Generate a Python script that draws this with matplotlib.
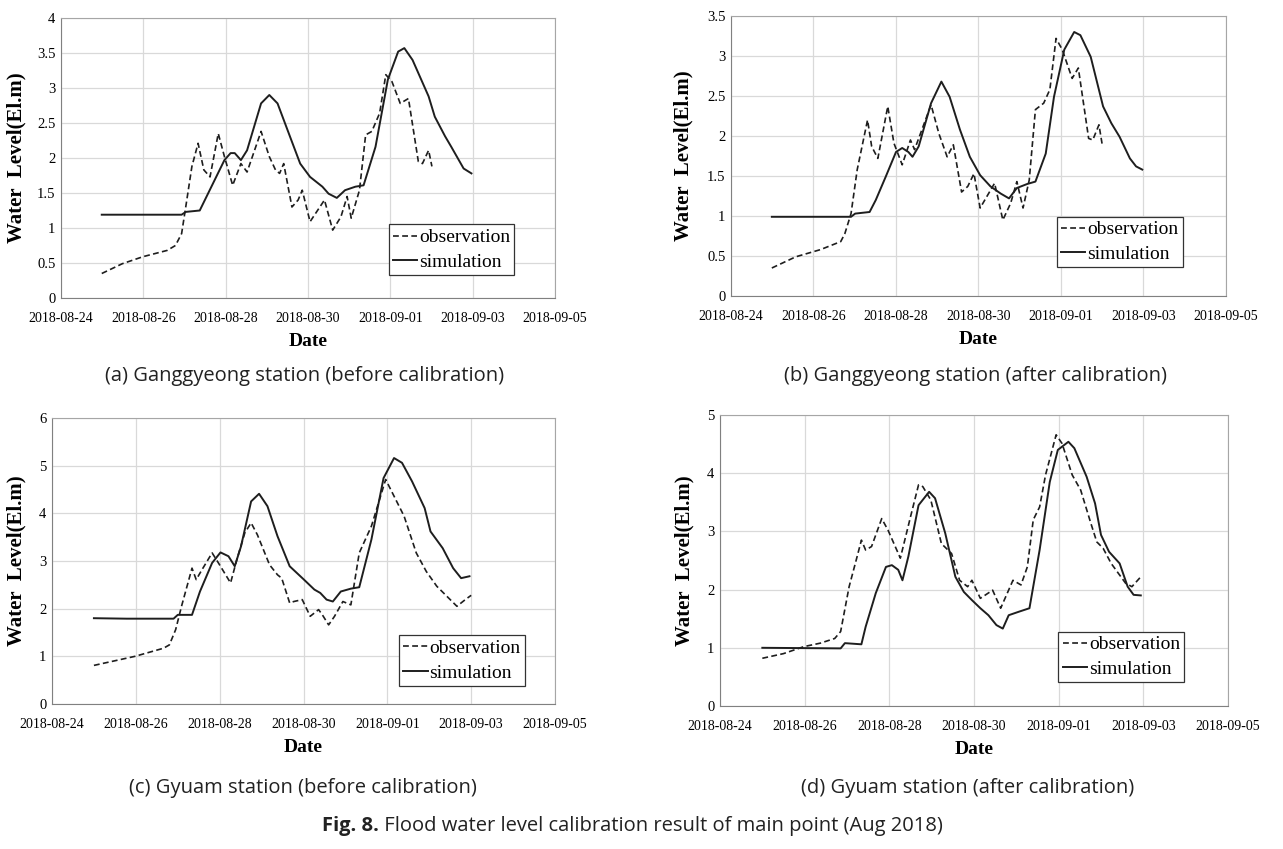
import matplotlib
matplotlib.use("Agg")
import matplotlib.pyplot as plt
import matplotlib.dates as mdates
import matplotlib.ticker as mticker
import numpy as np

# time in days after 2018-08-24 00:00, water level in El.m
# (a) Ganggyeong, before calibration
a_obs_t = [0.99, 1.49, 1.99, 2.58, 2.78, 2.93, 3.03, 3.18, 3.33, 3.47, 3.62, 3.82, 3.97, 4.17, 4.37, 4.52,
           4.86, 5.06, 5.21, 5.31, 5.41, 5.61, 5.76, 5.86, 6.05, 6.40, 6.60, 6.80, 6.95, 7.05, 7.25, 7.40,
           7.55, 7.74, 7.89, 8.04, 8.24, 8.44, 8.68, 8.78, 8.93, 9.01]
a_obs_v = [0.35, 0.49, 0.59, 0.68, 0.75, 0.92, 1.30, 1.88, 2.21, 1.83, 1.73, 2.35, 2.02, 1.61, 1.92, 1.80,
           2.38, 2.02, 1.83, 1.78, 1.92, 1.30, 1.40, 1.54, 1.09, 1.40, 0.97, 1.16, 1.45, 1.14, 1.54, 2.33,
           2.38, 2.64, 3.19, 3.09, 2.78, 2.85, 1.95, 1.92, 2.11, 1.88]
a_sim_t = [0.99, 2.93, 3.03, 3.37, 3.57, 3.97, 4.12, 4.22, 4.37, 4.52, 4.86, 5.06, 5.26, 5.56, 5.81, 6.05,
           6.35, 6.50, 6.70, 6.90, 7.15, 7.35, 7.64, 7.94, 8.19, 8.34, 8.54, 8.93, 9.08, 9.33, 9.48, 9.78, 9.97]
a_sim_v = [1.19, 1.19, 1.23, 1.25, 1.49, 1.97, 2.07, 2.07, 1.97, 2.11, 2.78, 2.90, 2.78, 2.31, 1.92, 1.73,
           1.59, 1.49, 1.43, 1.54, 1.59, 1.61, 2.16, 3.12, 3.52, 3.57, 3.40, 2.88, 2.59, 2.31, 2.16, 1.85, 1.78]

# (b) Ganggyeong, after calibration
b_obs_t = [0.99, 1.57, 2.17, 2.66, 2.76, 2.91, 3.06, 3.31, 3.41, 3.56, 3.80, 3.95, 4.15, 4.35, 4.45, 4.85,
           5.04, 5.24, 5.39, 5.59, 5.74, 5.89, 6.04, 6.39, 6.59, 6.78, 6.93, 7.08, 7.23, 7.38, 7.58, 7.73,
           7.88, 8.03, 8.27, 8.42, 8.67, 8.77, 8.92, 9.00]
b_obs_v = [0.35, 0.49, 0.58, 0.68, 0.78, 1.03, 1.58, 2.20, 1.87, 1.72, 2.37, 1.91, 1.64, 1.95, 1.83, 2.39,
           2.03, 1.74, 1.89, 1.30, 1.37, 1.53, 1.10, 1.41, 0.95, 1.16, 1.43, 1.10, 1.45, 2.33, 2.41, 2.58,
           3.22, 3.08, 2.72, 2.85, 1.97, 1.95, 2.14, 1.89]
b_sim_t = [0.99, 2.91, 3.01, 3.36, 3.51, 3.75, 4.00, 4.15, 4.30, 4.40, 4.55, 4.85, 5.10, 5.30, 5.55, 5.79,
           6.04, 6.29, 6.54, 6.74, 6.93, 7.18, 7.38, 7.63, 7.83, 8.08, 8.32, 8.47, 8.72, 9.02, 9.22, 9.42,
           9.67, 9.82, 9.97]
b_sim_v = [0.99, 0.99, 1.03, 1.05, 1.20, 1.49, 1.80, 1.85, 1.80, 1.74, 1.87, 2.41, 2.68, 2.49, 2.08, 1.74,
           1.51, 1.37, 1.28, 1.22, 1.35, 1.40, 1.43, 1.78, 2.49, 3.08, 3.30, 3.26, 2.99, 2.37, 2.16, 1.99,
           1.72, 1.62, 1.58]

# (c) Gyuam, before calibration
c_obs_t = [1.00, 1.98, 2.66, 2.80, 2.95, 3.09, 3.34, 3.44, 3.58, 3.82, 3.97, 4.26, 4.41, 4.60, 4.75, 4.90,
           5.19, 5.38, 5.48, 5.67, 5.77, 5.97, 6.16, 6.36, 6.45, 6.60, 6.74, 6.94, 7.13, 7.33, 7.62, 7.96,
           8.20, 8.40, 8.69, 8.93, 9.18, 9.42, 9.66, 9.86, 10.00]
c_obs_v = [0.81, 1.00, 1.17, 1.24, 1.56, 2.05, 2.85, 2.61, 2.82, 3.17, 2.96, 2.54, 3.03, 3.59, 3.80, 3.55,
           2.92, 2.71, 2.64, 2.12, 2.15, 2.19, 1.84, 1.98, 1.87, 1.66, 1.84, 2.15, 2.08, 3.17, 3.73, 4.71,
           4.29, 3.94, 3.17, 2.78, 2.47, 2.26, 2.05, 2.19, 2.28]
c_sim_t = [1.00, 1.78, 2.90, 3.00, 3.34, 3.53, 3.82, 4.02, 4.21, 4.36, 4.51, 4.75, 4.94, 5.14, 5.38, 5.67,
           6.01, 6.26, 6.40, 6.55, 6.70, 6.89, 7.13, 7.33, 7.62, 7.91, 8.16, 8.35, 8.59, 8.89, 9.03, 9.32,
           9.57, 9.76, 9.96]
c_sim_v = [1.80, 1.79, 1.79, 1.87, 1.87, 2.36, 2.96, 3.18, 3.10, 2.89, 3.31, 4.25, 4.41, 4.15, 3.52, 2.89,
           2.61, 2.40, 2.33, 2.19, 2.15, 2.36, 2.42, 2.45, 3.45, 4.74, 5.16, 5.06, 4.67, 4.11, 3.62, 3.27,
           2.85, 2.64, 2.68]

# (d) Gyuam, after calibration
d_obs_t = [1.00, 1.50, 1.98, 2.37, 2.71, 2.85, 3.05, 3.24, 3.34, 3.44, 3.58, 3.82, 3.97, 4.26, 4.50, 4.69,
           4.79, 4.98, 5.23, 5.47, 5.66, 5.85, 5.95, 6.15, 6.44, 6.63, 6.92, 7.11, 7.26, 7.40, 7.55, 7.69,
           7.94, 8.08, 8.32, 8.52, 8.76, 8.90, 9.05, 9.24, 9.58, 9.73, 9.94]
d_obs_v = [0.82, 0.90, 1.02, 1.08, 1.16, 1.28, 2.05, 2.57, 2.85, 2.68, 2.74, 3.22, 3.02, 2.54, 3.25, 3.80,
           3.77, 3.54, 2.79, 2.62, 2.16, 2.05, 2.16, 1.85, 1.99, 1.68, 2.16, 2.08, 2.39, 3.20, 3.42, 3.97,
           4.66, 4.51, 3.97, 3.71, 3.14, 2.82, 2.71, 2.45, 2.11, 2.05, 2.22]
d_sim_t = [1.00, 2.85, 2.95, 3.34, 3.44, 3.68, 3.92, 4.06, 4.21, 4.31, 4.45, 4.69, 4.94, 5.08, 5.32, 5.56,
           5.76, 5.95, 6.15, 6.34, 6.53, 6.68, 6.82, 7.06, 7.31, 7.55, 7.79, 7.98, 8.23, 8.37, 8.66, 8.86,
           9.00, 9.19, 9.44, 9.63, 9.77, 9.94]
d_sim_v = [1.00, 0.99, 1.08, 1.06, 1.36, 1.94, 2.39, 2.42, 2.34, 2.16, 2.57, 3.45, 3.68, 3.57, 2.97, 2.22,
           1.96, 1.82, 1.68, 1.56, 1.39, 1.33, 1.56, 1.62, 1.68, 2.68, 3.85, 4.40, 4.54, 4.43, 3.94, 3.48,
           2.94, 2.65, 2.45, 2.05, 1.91, 1.90]

captions = ["(a) Ganggyeong station (before calibration)",
            "(b) Ganggyeong station (after calibration)",
            "(c) Gyuam station (before calibration)",
            "(d) Gyuam station (after calibration)"]
y_max = [4, 3.5, 6, 5]
y_step = [0.5, 0.5, 1, 1]

W, H = 1283, 849
fig = plt.figure(figsize=(W / 100, H / 100), dpi=100)

# axes boxes in pixels: left, right, top, bottom
boxes = [(61, 555, 18, 298), (731, 1226, 16, 296), (52, 555, 418, 704), (720, 1228, 415, 706)]
legend_xy = [(0.663, 0.082), (0.658, 0.103), (0.69, 0.063), (0.666, 0.082)]
ylab_x = [-0.070, -0.075, -0.050, -0.051]
cap_xy = [(305, 376), (975, 376), (303, 788), (968, 788)]

series = [(a_obs_t, a_obs_v, a_sim_t, a_sim_v), (b_obs_t, b_obs_v, b_sim_t, b_sim_v),
          (c_obs_t, c_obs_v, c_sim_t, c_sim_v), (d_obs_t, d_obs_v, d_sim_t, d_sim_v)]

t0 = mdates.datestr2num("2018-08-24")
serif = ["Liberation Serif", "DejaVu Serif"]
sans = ["Open Sans", "DejaVu Sans"]

for i in range(4):
    l, r, t, b = boxes[i]
    ax = fig.add_axes([l / W, 1 - b / H, (r - l) / W, (b - t) / H])
    ot, ov, st, sv = series[i]
    ax.plot(t0 + np.array(ot), ov, color="#1e1e1e", lw=1.2, dashes=(3.5, 2), label="observation")
    ax.plot(t0 + np.array(st), sv, color="#1e1e1e", lw=1.4, label="simulation")

    ax.set_xlim(t0, t0 + 12)
    ax.set_ylim(0, y_max[i])
    ax.xaxis.set_major_locator(mticker.FixedLocator(t0 + np.arange(0, 13, 2)))
    ax.xaxis.set_major_formatter(mdates.DateFormatter("%Y-%m-%d"))
    ax.yaxis.set_major_locator(mticker.MultipleLocator(y_step[i]))
    ax.yaxis.set_major_formatter(mticker.FuncFormatter(lambda v, p: "%g" % v))
    ax.grid(True, color="#d9d9d9", lw=0.9)
    ax.set_axisbelow(True)
    ax.tick_params(axis="x", length=0, labelsize=10, pad=10)
    ax.tick_params(axis="y", length=0, labelsize=10.5, pad=4)
    for lab in ax.get_xticklabels() + ax.get_yticklabels():
        lab.set_family(serif)
    for side in ["top", "right"]:
        ax.spines[side].set_color("#a6a6a6")
    for side in ["left", "bottom"]:
        ax.spines[side].set_color("#808080")
    ax.set_xlabel("Date", family=serif, fontweight="bold", fontsize=14, labelpad=6)
    ax.set_ylabel("Water  Level(El.m)", family=serif, fontweight="bold", fontsize=15)
    ax.yaxis.set_label_coords(ylab_x[i], 0.5)

    leg = ax.legend(loc="lower left", bbox_to_anchor=legend_xy[i], prop={"family": serif, "size": 14},
                    handlelength=1.25, handletextpad=0.1, labelspacing=0.35, borderpad=0.22,
                    borderaxespad=0, fancybox=False, framealpha=1)
    leg.get_frame().set_edgecolor("#333333")
    leg.get_frame().set_linewidth(0.9)

    cx, cy = cap_xy[i]
    fig.text(cx / W, 1 - cy / H, captions[i], ha="center", va="center",
             fontsize=14.5, family=sans, color="#222222")

fig.text(379 / W, 1 - 826 / H, "Fig. 8.", ha="right", va="center", fontsize=14.5,
         fontweight="bold", family=sans, color="#222222")
fig.text(379 / W, 1 - 826 / H, " Flood water level calibration result of main point (Aug 2018)",
         ha="left", va="center", fontsize=14.5, family=sans, color="#222222")

fig.savefig("out.png", dpi=100)
